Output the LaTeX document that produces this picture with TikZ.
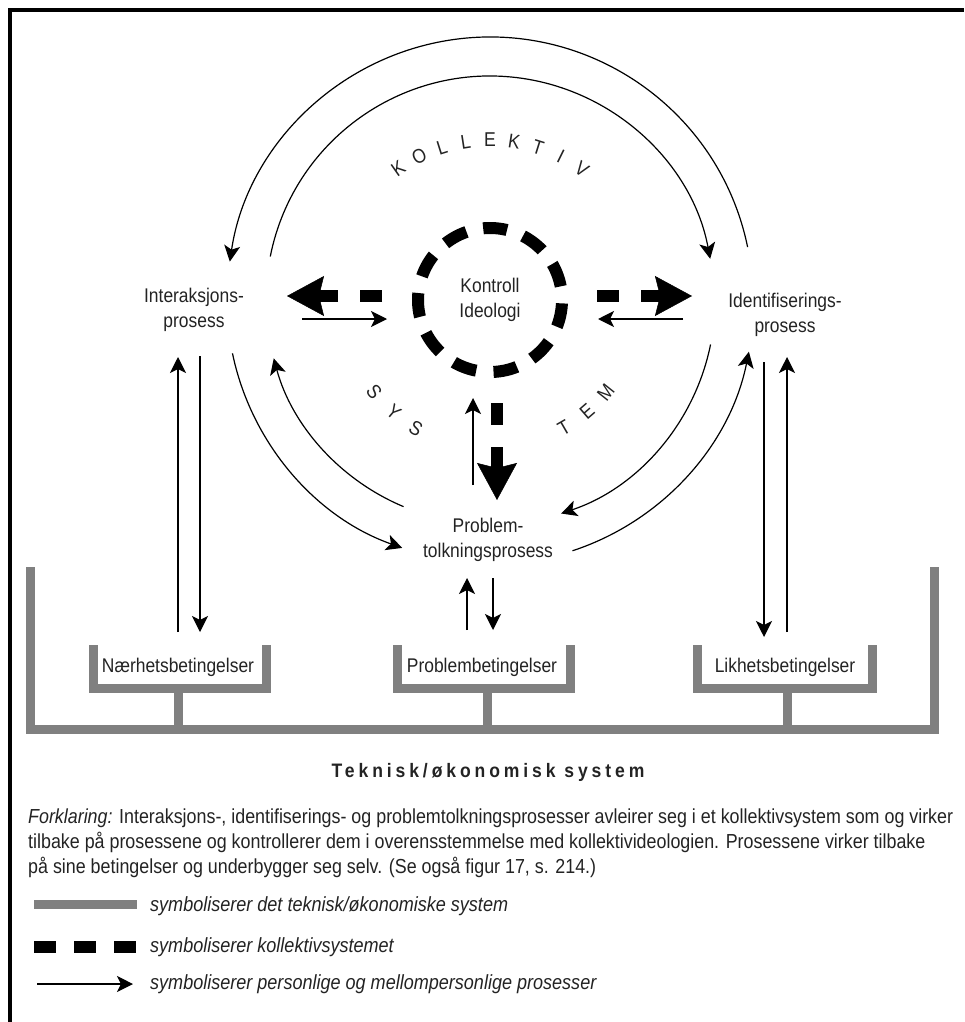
\documentclass[tikz,border=0pt]{standalone}
\usepackage{fontspec}
\setmainfont[FakeStretch=0.88]{Liberation Sans}
\newfontfamily\ttlfont[FakeStretch=0.9,LetterSpace=20]{Liberation Sans}
\usetikzlibrary{arrows.meta}
\definecolor{tgray}{RGB}{128,128,128}
\definecolor{txt}{RGB}{35,35,35}
\begin{document}
\begin{tikzpicture}[x=1pt,y=1pt,
  lbl/.style={font=\fontsize{19.8}{25}\selectfont, align=center, text=txt, inner sep=0pt},
  ltr/.style={font=\fontsize{20}{20}\selectfont, text=txt, inner sep=0pt},
  para/.style={font=\fontsize{20.3}{25}\selectfont, text=txt, inner sep=0pt, anchor=base west},
  legtxt/.style={font=\fontsize{20.5}{25}\selectfont\itshape, text=txt, inner sep=0pt, anchor=west},
  tarr/.style={line width=1.2pt, -{Stealth[length=16pt,width=16pt,inset=4pt]}},
  karr/.style={line width=12pt, dash pattern=on 22pt off 22pt on 200pt,
     -{Stealth[length=37pt,width=40pt,inset=5pt,line width=0.5pt]}},
  kcirc/.style={line width=12pt, dash pattern=on 24pt off 17.1pt, dash phase=32.55pt},
  gbar/.style={draw=tgray, line width=9pt, line cap=butt, line join=miter},
]
\useasboundingbox (0,0) rectangle (964,-1022);
% frame
\draw[line width=3.5pt, line join=miter] (10,-1022) -- (10,-10) -- (964,-10);

\coordinate (C) at (490,-300);

% nodes
\node[lbl] (inter) at (194,-310) {Interaksjons-\\prosess};
\node[lbl] (ident) at (785,-315) {Identifiserings-\\prosess};
\node[lbl] (kontroll) at (490,-300) {Kontroll\\Ideologi};
\node[lbl] (problem) at (488,-540) {Problem-\\tolkningsprosess};

% dashed circle (kollektivsystem)
\draw[kcirc] ([shift={(266:72)}]C) arc[start angle=266, end angle=626, radius=72];

% thick dashed arrows
\coordinate (kl1) at (382,-296); \coordinate (kl2) at (287,-296);
\coordinate (kr1) at (597,-296); \coordinate (kr2) at (692,-296);
\coordinate (kd1) at (497,-403); \coordinate (kd2) at (497,-500);
\draw[karr] (kl1) -- (kl2);
\draw[karr] (kr1) -- (kr2);
\draw[karr] (kd1) -- (kd2);

% big arcs
\draw[tarr] ([shift={(11.6:263)}]C) arc[start angle=11.6, end angle=171.6, radius=263];
\draw[tarr] ([shift={(168.8:224)}]C) arc[start angle=168.8, end angle=10.6, radius=224];
\draw[tarr] ([shift={(191.7:263)}]C) arc[start angle=191.7, end angle=250.5, radius=263];
\draw[tarr] ([shift={(247.3:224)}]C) arc[start angle=247.3, end angle=195.1, radius=224];
\draw[tarr] ([shift={(-11.4:225)}]C) arc[start angle=-11.4, end angle=-71.6, radius=225];
\draw[tarr] ([shift={(-71.8:264)}]C) arc[start angle=-71.8, end angle=-11.3, radius=264];

% KOLLEKTIV / SYS TEM letters
\foreach \l [count=\i from 0] in {K,O,L,L,E,K,T,I,V}{
  \pgfmathsetmacro\a{125-8.75*\i}
  \pgfmathsetmacro\r{\a-90}
  \node[ltr, rotate=\r] at ([shift={(\a:160)}]C) {\l};
}
\foreach \l/\a in {S/218.5, Y/229.5, S/240, T/300, E/311, M/321.5}{
  \pgfmathsetmacro\r{\a+90}
  \node[ltr, rotate=\r] at ([shift={(\a:148)}]C) {\l};
}

% short thin arrows
\coordinate (a1) at (302,-319); \coordinate (a2) at (387,-319);
\coordinate (b1) at (683,-319); \coordinate (b2) at (598,-319);
\coordinate (c1) at (473,-485); \coordinate (c2) at (473,-398);
\draw[tarr] (a1) -- (a2);
\draw[tarr] (b1) -- (b2);
\draw[tarr] (c1) -- (c2);

% bottom system
\node[lbl] (naer) at (178,-667) {Nærhetsbetingelser};
\node[lbl] (probb) at (482,-667) {Problembetingelser};
\node[lbl] (likh) at (785,-667) {Likhetsbetingelser};

\draw[gbar] (30,-567) -- (30,-729) -- (934,-729) -- (934,-567);
\draw[gbar] (93.5,-645) -- (93.5,-688) -- (266,-688) -- (266,-645);
\draw[gbar] (178,-688) -- (178,-729);
\draw[gbar] (397,-645) -- (397,-688) -- (570,-688) -- (570,-645);
\draw[gbar] (487,-688) -- (487,-729);
\draw[gbar] (697,-645) -- (697,-688) -- (872,-688) -- (872,-645);
\draw[gbar] (787,-688) -- (787,-729);

% vertical arrows to conditions
\coordinate (p1) at (467,-630); \coordinate (p2) at (467,-578);
\coordinate (p3) at (493,-578); \coordinate (p4) at (493,-630);
\draw[tarr] (p1) -- (p2);
\draw[tarr] (p3) -- (p4);
\coordinate (l1) at (178,-632); \coordinate (l2) at (178,-357);
\coordinate (l3) at (200,-356); \coordinate (l4) at (200,-632);
\draw[tarr] (l1) -- (l2);
\draw[tarr] (l3) -- (l4);
\coordinate (r1) at (764,-362); \coordinate (r2) at (764,-637);
\coordinate (r3) at (787,-632); \coordinate (r4) at (787,-357);
\draw[tarr] (r1) -- (r2);
\draw[tarr] (r3) -- (r4);

% title
\node[inner sep=0pt, text=txt, font=\ttlfont\bfseries\fontsize{19.5}{19.5}\selectfont] (title) at (488,-772) {Teknisk/økonomisk system};

% explanation
\node[para] (f1) at (28,-823) {\textit{Forklaring:} Interaksjons-, identifiserings- og problemtolkningsprosesser avleirer seg i et kollektivsystem som og virker};
\node[para] (f2) at (28,-848) {tilbake på prosessene og kontrollerer dem i overensstemmelse med kollektivideologien. Prosessene virker tilbake};
\node[para] (f3) at (28,-873) {på sine betingelser og underbygger seg selv. (Se også figur 17, s. 214.)};

% legend
\coordinate (g1) at (34,-904); \coordinate (g2) at (137,-904);
\draw[gbar] (g1) -- (g2);
\node[legtxt] (lg1) at (150,-906) {symboliserer det teknisk/økonomiske system};
\coordinate (d1) at (34,-947); \coordinate (d2) at (138,-947);
\draw[line width=12pt, dash pattern=on 22pt off 18pt] (d1) -- (d2);
\node[legtxt] (lg2) at (150,-947) {symboliserer kollektivsystemet};
\coordinate (e1) at (37,-984); \coordinate (e2) at (133,-984);
\draw[tarr] (e1) -- (e2);
\node[legtxt] (lg3) at (150,-984) {symboliserer personlige og mellompersonlige prosesser};
\end{tikzpicture}
\end{document}
